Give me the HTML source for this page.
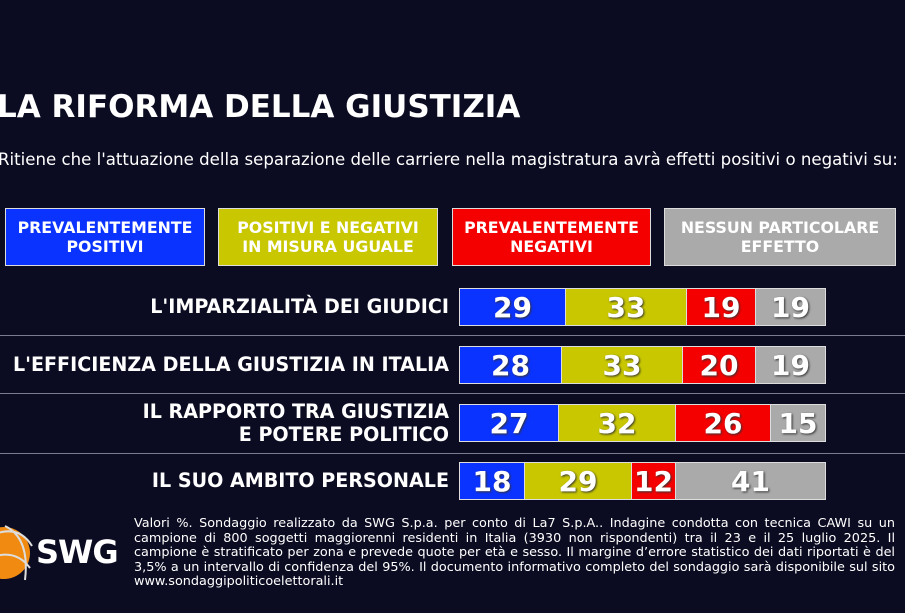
<!DOCTYPE html><html><head><style>
body{margin:0;width:905px;height:613px;background:#0b0c22;position:relative;overflow:hidden;font-family:"DejaVu Sans",Verdana,sans-serif;color:#fff}
.a{position:absolute}
.t{left:-3px;top:89px;font:bold 31px "DejaVu Sans",sans-serif;white-space:nowrap}
.s{left:-2px;top:150px;font-size:16.6px;white-space:nowrap}
.lg{position:absolute;top:208px;height:58px;box-sizing:border-box;border:1.5px solid #ddd;display:flex;align-items:center;justify-content:center;text-align:center;font-weight:bold;font-size:15.8px;line-height:19px}
.lb{position:absolute;right:456px;font-weight:bold;font-size:19.1px;text-align:right;line-height:23px;white-space:nowrap}
.bar{position:absolute;left:459px;width:367px;height:38px;box-sizing:border-box;border:1.5px solid #ddd;display:flex}
.bar div{height:100%;display:flex;align-items:center;justify-content:center;font-weight:bold;font-size:28px;text-shadow:1px 1px 2px #333;box-sizing:border-box;border-right:1.5px solid #ddd}
.bar div:last-child{border-right:none}
.B{background:#0b33ff}.Y{background:#c9c800}.R{background:#f50000}.G{background:#aaa}
.hr{position:absolute;left:0;width:905px;height:1px;background:#7a7d90}
.f{left:134px;top:517px;width:761px;font-size:12.8px;line-height:14.6px;text-align:justify}
</style></head><body>
<div class="a t">LA RIFORMA DELLA GIUSTIZIA</div>
<div class="a s">Ritiene che l'attuazione della separazione delle carriere nella magistratura avrà effetti positivi o negativi su:</div>
<div class="lg B" style="left:5px;width:200px">PREVALENTEMENTE<br>POSITIVI</div>
<div class="lg Y" style="left:218px;width:220px">POSITIVI E NEGATIVI<br>IN MISURA UGUALE</div>
<div class="lg R" style="left:452px;width:199px">PREVALENTEMENTE<br>NEGATIVI</div>
<div class="lg G" style="left:664px;width:232px">NESSUN PARTICOLARE<br>EFFETTO</div>
<div class="lb" style="top:295px">L'IMPARZIALITÀ DEI GIUDICI</div>
<div class="lb" style="top:353px">L'EFFICIENZA DELLA GIUSTIZIA IN ITALIA</div>
<div class="lb" style="top:400px">IL RAPPORTO TRA GIUSTIZIA<br>E POTERE POLITICO</div>
<div class="lb" style="top:469px">IL SUO AMBITO PERSONALE</div>
<div class="bar" style="top:288px"><div class="B" style="width:106px">29</div><div class="Y" style="width:121px">33</div><div class="R" style="width:69px">19</div><div class="G" style="flex:1">19</div></div>
<div class="hr" style="top:335px"></div>
<div class="bar" style="top:346px"><div class="B" style="width:102px">28</div><div class="Y" style="width:121px">33</div><div class="R" style="width:73px">20</div><div class="G" style="flex:1">19</div></div>
<div class="hr" style="top:393px"></div>
<div class="bar" style="top:404px"><div class="B" style="width:99px">27</div><div class="Y" style="width:117px">32</div><div class="R" style="width:95px">26</div><div class="G" style="flex:1">15</div></div>
<div class="hr" style="top:453px"></div>
<div class="bar" style="top:462px"><div class="B" style="width:65px">18</div><div class="Y" style="width:107px">29</div><div class="R" style="width:44px">12</div><div class="G" style="flex:1">41</div></div>
<svg class="a" style="left:0;top:518px" width="40" height="70"><circle cx="4" cy="35" r="26" fill="#f08a10"/><path d="M-10 18 Q18 5 32 28 M-10 40 Q15 30 30 50 M5 8 Q30 20 25 62" stroke="#ddd" stroke-width="2" fill="none"/></svg>
<div class="a" style="left:36px;top:533px;font:bold 32px 'DejaVu Sans',sans-serif;letter-spacing:-1px">SWG</div>
<div class="a f">Valori %. Sondaggio realizzato da SWG S.p.a. per conto di La7 S.p.A.. Indagine condotta con tecnica CAWI su un campione di 800 soggetti maggiorenni residenti in Italia (3930 non rispondenti) tra il 23 e il 25 luglio 2025. Il campione è stratificato per zona e prevede quote per età e sesso. Il margine d’errore statistico dei dati riportati è del 3,5% a un intervallo di confidenza del 95%. Il documento informativo completo del sondaggio sarà disponibile sul sito www.sondaggipoliticoelettorali.it</div>
</body></html>
